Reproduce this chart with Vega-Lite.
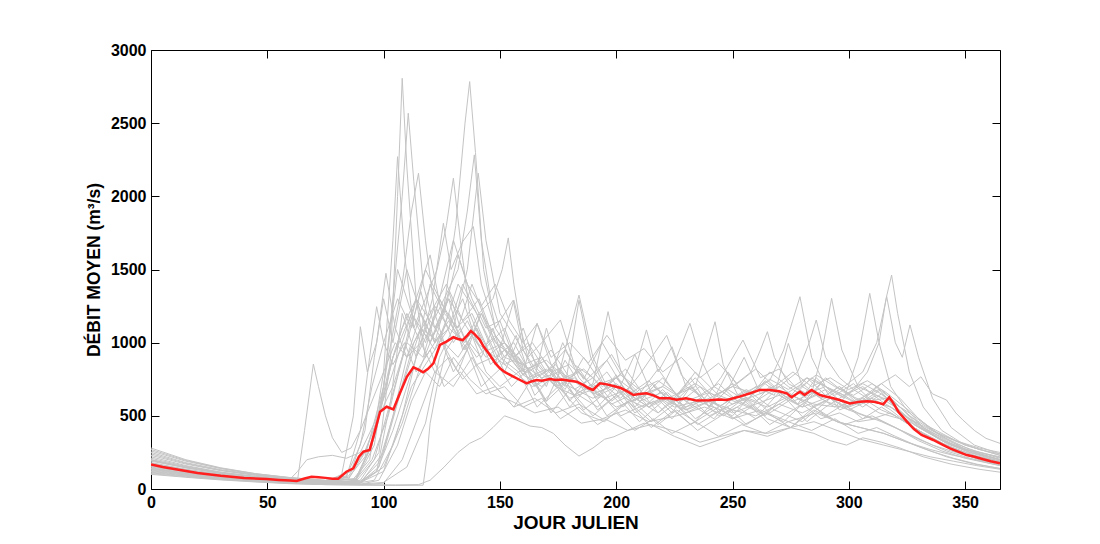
{
"$schema": "https://vega.github.io/schema/vega-lite/v6.json",
"width": 849, "height": 439,
"autosize": {"type": "none"},
"padding": {"left": 151, "top": 50, "right": 100, "bottom": 55},
"background": "white",
"config": {"view": {"stroke": null}, "font": "Liberation Sans"},
"datasets": {
"gray": [
{"s":1,"d":0,"v":180},{"s":1,"d":15,"v":135},{"s":1,"d":30,"v":100},{"s":1,"d":45,"v":75},{"s":1,"d":60,"v":55},{"s":1,"d":75,"v":40},{"s":1,"d":90,"v":60},{"s":1,"d":98,"v":250},{"s":1,"d":103,"v":900},{"s":1,"d":106,"v":2000},{"s":1,"d":108,"v":2807},{"s":1,"d":110,"v":2200},{"s":1,"d":114,"v":1300},{"s":1,"d":118,"v":900},{"s":1,"d":124,"v":1050},{"s":1,"d":130,"v":800},{"s":1,"d":136,"v":950},{"s":1,"d":142,"v":700},{"s":1,"d":150,"v":820},{"s":1,"d":157,"v":1050},{"s":1,"d":163,"v":760},{"s":1,"d":170,"v":600},{"s":1,"d":178,"v":880},{"s":1,"d":185,"v":700},{"s":1,"d":192,"v":540},{"s":1,"d":200,"v":640},{"s":1,"d":208,"v":920},{"s":1,"d":215,"v":660},{"s":1,"d":224,"v":520},{"s":1,"d":232,"v":700},{"s":1,"d":240,"v":560},{"s":1,"d":248,"v":800},{"s":1,"d":256,"v":620},{"s":1,"d":264,"v":500},{"s":1,"d":272,"v":640},{"s":1,"d":280,"v":560},{"s":1,"d":288,"v":720},{"s":1,"d":296,"v":540},{"s":1,"d":305,"v":600},{"s":1,"d":313,"v":520},{"s":1,"d":322,"v":480},{"s":1,"d":332,"v":380},{"s":1,"d":345,"v":260},{"s":1,"d":355,"v":210},{"s":1,"d":365,"v":175},
{"s":2,"d":0,"v":220},{"s":2,"d":15,"v":160},{"s":2,"d":30,"v":115},{"s":2,"d":45,"v":85},{"s":2,"d":60,"v":62},{"s":2,"d":75,"v":48},{"s":2,"d":88,"v":70},{"s":2,"d":95,"v":300},{"s":2,"d":100,"v":700},{"s":2,"d":104,"v":1300},{"s":2,"d":108,"v":2000},{"s":2,"d":110.6,"v":2568},{"s":2,"d":113,"v":2100},{"s":2,"d":117,"v":1400},{"s":2,"d":122,"v":1100},{"s":2,"d":128,"v":1300},{"s":2,"d":134,"v":950},{"s":2,"d":140,"v":1100},{"s":2,"d":148,"v":850},{"s":2,"d":156,"v":1290},{"s":2,"d":162,"v":900},{"s":2,"d":170,"v":700},{"s":2,"d":177,"v":1000},{"s":2,"d":184,"v":760},{"s":2,"d":192,"v":620},{"s":2,"d":200,"v":780},{"s":2,"d":208,"v":560},{"s":2,"d":216,"v":700},{"s":2,"d":224,"v":600},{"s":2,"d":232,"v":760},{"s":2,"d":240,"v":560},{"s":2,"d":248,"v":680},{"s":2,"d":255,"v":900},{"s":2,"d":262,"v":650},{"s":2,"d":270,"v":720},{"s":2,"d":278,"v":580},{"s":2,"d":286,"v":760},{"s":2,"d":294,"v":640},{"s":2,"d":302,"v":720},{"s":2,"d":310,"v":600},{"s":2,"d":318,"v":560},{"s":2,"d":326,"v":480},{"s":2,"d":338,"v":380},{"s":2,"d":350,"v":300},{"s":2,"d":365,"v":230},
{"s":3,"d":0,"v":150},{"s":3,"d":15,"v":115},{"s":3,"d":30,"v":88},{"s":3,"d":45,"v":68},{"s":3,"d":60,"v":50},{"s":3,"d":75,"v":38},{"s":3,"d":90,"v":40},{"s":3,"d":100,"v":150},{"s":3,"d":108,"v":450},{"s":3,"d":115,"v":800},{"s":3,"d":120,"v":1000},{"s":3,"d":126,"v":1250},{"s":3,"d":131,"v":1800},{"s":3,"d":135,"v":2500},{"s":3,"d":137,"v":2784},{"s":3,"d":139.5,"v":2300},{"s":3,"d":143,"v":1500},{"s":3,"d":148,"v":1100},{"s":3,"d":154,"v":950},{"s":3,"d":160,"v":800},{"s":3,"d":166,"v":1132},{"s":3,"d":172,"v":850},{"s":3,"d":178,"v":700},{"s":3,"d":184,"v":1290},{"s":3,"d":189,"v":900},{"s":3,"d":195,"v":700},{"s":3,"d":203,"v":560},{"s":3,"d":210,"v":680},{"s":3,"d":218,"v":520},{"s":3,"d":226,"v":620},{"s":3,"d":234,"v":480},{"s":3,"d":242,"v":560},{"s":3,"d":250,"v":500},{"s":3,"d":258,"v":640},{"s":3,"d":266,"v":520},{"s":3,"d":274,"v":600},{"s":3,"d":282,"v":460},{"s":3,"d":290,"v":560},{"s":3,"d":298,"v":640},{"s":3,"d":306,"v":560},{"s":3,"d":314,"v":650},{"s":3,"d":320,"v":560},{"s":3,"d":330,"v":420},{"s":3,"d":342,"v":320},{"s":3,"d":354,"v":250},{"s":3,"d":365,"v":200},
{"s":4,"d":0,"v":130},{"s":4,"d":15,"v":100},{"s":4,"d":30,"v":78},{"s":4,"d":45,"v":60},{"s":4,"d":60,"v":45},{"s":4,"d":75,"v":35},{"s":4,"d":90,"v":45},{"s":4,"d":97,"v":120},{"s":4,"d":103,"v":600},{"s":4,"d":108,"v":1200},{"s":4,"d":114,"v":900},{"s":4,"d":120,"v":1100},{"s":4,"d":126,"v":1300},{"s":4,"d":132,"v":1500},{"s":4,"d":136,"v":1900},{"s":4,"d":139,"v":2283},{"s":4,"d":142,"v":1700},{"s":4,"d":146,"v":1300},{"s":4,"d":152,"v":1000},{"s":4,"d":158,"v":900},{"s":4,"d":165,"v":760},{"s":4,"d":170,"v":1100},{"s":4,"d":175,"v":820},{"s":4,"d":182,"v":640},{"s":4,"d":190,"v":720},{"s":4,"d":196.5,"v":1212},{"s":4,"d":202,"v":800},{"s":4,"d":210,"v":600},{"s":4,"d":218,"v":520},{"s":4,"d":226,"v":640},{"s":4,"d":234,"v":560},{"s":4,"d":242,"v":480},{"s":4,"d":250,"v":620},{"s":4,"d":258,"v":560},{"s":4,"d":266,"v":700},{"s":4,"d":274,"v":620},{"s":4,"d":282,"v":760},{"s":4,"d":290,"v":640},{"s":4,"d":298,"v":560},{"s":4,"d":306,"v":620},{"s":4,"d":314,"v":540},{"s":4,"d":320,"v":500},{"s":4,"d":328,"v":420},{"s":4,"d":338,"v":320},{"s":4,"d":350,"v":240},{"s":4,"d":365,"v":185},
{"s":5,"d":0,"v":260},{"s":5,"d":15,"v":190},{"s":5,"d":30,"v":140},{"s":5,"d":45,"v":100},{"s":5,"d":60,"v":75},{"s":5,"d":75,"v":55},{"s":5,"d":85,"v":80},{"s":5,"d":92,"v":220},{"s":5,"d":100,"v":700},{"s":5,"d":106,"v":1500},{"s":5,"d":112,"v":1200},{"s":5,"d":118,"v":1000},{"s":5,"d":124,"v":1300},{"s":5,"d":130,"v":1100},{"s":5,"d":136,"v":1500},{"s":5,"d":140.7,"v":2158},{"s":5,"d":144,"v":1700},{"s":5,"d":150,"v":1200},{"s":5,"d":156,"v":1050},{"s":5,"d":162,"v":900},{"s":5,"d":168,"v":1000},{"s":5,"d":176,"v":1155},{"s":5,"d":182,"v":850},{"s":5,"d":190,"v":760},{"s":5,"d":198,"v":920},{"s":5,"d":206,"v":700},{"s":5,"d":213,"v":1087},{"s":5,"d":218,"v":800},{"s":5,"d":224,"v":972},{"s":5,"d":230,"v":700},{"s":5,"d":238,"v":620},{"s":5,"d":245,"v":760},{"s":5,"d":254.5,"v":1018},{"s":5,"d":262,"v":760},{"s":5,"d":270,"v":820},{"s":5,"d":278,"v":680},{"s":5,"d":286,"v":780},{"s":5,"d":294,"v":700},{"s":5,"d":302,"v":640},{"s":5,"d":310,"v":720},{"s":5,"d":318,"v":620},{"s":5,"d":326,"v":500},{"s":5,"d":336,"v":400},{"s":5,"d":346,"v":330},{"s":5,"d":356,"v":280},{"s":5,"d":365,"v":250},
{"s":6,"d":0,"v":170},{"s":6,"d":15,"v":130},{"s":6,"d":30,"v":95},{"s":6,"d":45,"v":72},{"s":6,"d":60,"v":52},{"s":6,"d":75,"v":40},{"s":6,"d":88,"v":55},{"s":6,"d":96,"v":300},{"s":6,"d":102,"v":900},{"s":6,"d":108,"v":1400},{"s":6,"d":112,"v":1900},{"s":6,"d":115,"v":2158},{"s":6,"d":118,"v":1700},{"s":6,"d":122,"v":1200},{"s":6,"d":127,"v":950},{"s":6,"d":133,"v":1100},{"s":6,"d":140,"v":850},{"s":6,"d":147,"v":900},{"s":6,"d":155,"v":700},{"s":6,"d":162,"v":820},{"s":6,"d":170,"v":600},{"s":6,"d":178,"v":720},{"s":6,"d":186,"v":540},{"s":6,"d":194,"v":640},{"s":6,"d":202,"v":500},{"s":6,"d":210,"v":560},{"s":6,"d":218,"v":440},{"s":6,"d":226,"v":540},{"s":6,"d":234,"v":460},{"s":6,"d":242,"v":600},{"s":6,"d":250,"v":480},{"s":6,"d":258,"v":560},{"s":6,"d":266,"v":440},{"s":6,"d":274,"v":520},{"s":6,"d":282,"v":600},{"s":6,"d":290,"v":500},{"s":6,"d":298,"v":580},{"s":6,"d":306,"v":480},{"s":6,"d":314,"v":560},{"s":6,"d":320,"v":500},{"s":6,"d":330,"v":400},{"s":6,"d":342,"v":300},{"s":6,"d":354,"v":230},{"s":6,"d":365,"v":190},
{"s":7,"d":0,"v":140},{"s":7,"d":15,"v":108},{"s":7,"d":30,"v":82},{"s":7,"d":45,"v":63},{"s":7,"d":60,"v":47},{"s":7,"d":75,"v":36},{"s":7,"d":86,"v":50},{"s":7,"d":94,"v":200},{"s":7,"d":100,"v":800},{"s":7,"d":104,"v":1700},{"s":7,"d":106,"v":2271},{"s":7,"d":109,"v":1600},{"s":7,"d":113,"v":1100},{"s":7,"d":118,"v":1300},{"s":7,"d":123,"v":1500},{"s":7,"d":127,"v":1800},{"s":7,"d":130,"v":2124},{"s":7,"d":133,"v":1700},{"s":7,"d":137,"v":1200},{"s":7,"d":142,"v":1000},{"s":7,"d":148,"v":850},{"s":7,"d":155,"v":950},{"s":7,"d":162,"v":760},{"s":7,"d":170,"v":820},{"s":7,"d":178,"v":680},{"s":7,"d":186,"v":900},{"s":7,"d":194,"v":720},{"s":7,"d":202,"v":620},{"s":7,"d":210,"v":780},{"s":7,"d":221.7,"v":1050},{"s":7,"d":228,"v":780},{"s":7,"d":236,"v":640},{"s":7,"d":244,"v":720},{"s":7,"d":252,"v":600},{"s":7,"d":260,"v":700},{"s":7,"d":268,"v":640},{"s":7,"d":274,"v":995},{"s":7,"d":280,"v":700},{"s":7,"d":288,"v":620},{"s":7,"d":296,"v":700},{"s":7,"d":304,"v":580},{"s":7,"d":312,"v":640},{"s":7,"d":318,"v":600},{"s":7,"d":328,"v":440},{"s":7,"d":340,"v":330},{"s":7,"d":352,"v":250},{"s":7,"d":365,"v":200},
{"s":8,"d":0,"v":200},{"s":8,"d":15,"v":150},{"s":8,"d":30,"v":110},{"s":8,"d":45,"v":82},{"s":8,"d":60,"v":60},{"s":8,"d":75,"v":45},{"s":8,"d":85,"v":70},{"s":8,"d":92,"v":250},{"s":8,"d":98,"v":500},{"s":8,"d":104,"v":900},{"s":8,"d":110,"v":1200},{"s":8,"d":116,"v":1000},{"s":8,"d":121,"v":1300},{"s":8,"d":125.7,"v":1816},{"s":8,"d":129,"v":1500},{"s":8,"d":134,"v":1690},{"s":8,"d":138.6,"v":1793},{"s":8,"d":142,"v":1400},{"s":8,"d":148,"v":1100},{"s":8,"d":155.7,"v":1290},{"s":8,"d":160,"v":950},{"s":8,"d":166,"v":760},{"s":8,"d":174,"v":850},{"s":8,"d":182,"v":680},{"s":8,"d":190,"v":760},{"s":8,"d":198,"v":600},{"s":8,"d":206,"v":700},{"s":8,"d":214,"v":560},{"s":8,"d":222,"v":660},{"s":8,"d":230,"v":540},{"s":8,"d":238,"v":620},{"s":8,"d":246,"v":500},{"s":8,"d":254,"v":580},{"s":8,"d":262,"v":520},{"s":8,"d":270,"v":660},{"s":8,"d":278,"v":580},{"s":8,"d":286,"v":640},{"s":8,"d":294,"v":560},{"s":8,"d":302,"v":680},{"s":8,"d":310,"v":600},{"s":8,"d":318,"v":560},{"s":8,"d":326,"v":460},{"s":8,"d":338,"v":350},{"s":8,"d":350,"v":270},{"s":8,"d":365,"v":220},
{"s":9,"d":0,"v":110},{"s":9,"d":15,"v":88},{"s":9,"d":30,"v":68},{"s":9,"d":45,"v":52},{"s":9,"d":60,"v":40},{"s":9,"d":75,"v":32},{"s":9,"d":88,"v":38},{"s":9,"d":96,"v":60},{"s":9,"d":104,"v":300},{"s":9,"d":112,"v":700},{"s":9,"d":120,"v":900},{"s":9,"d":128,"v":1100},{"s":9,"d":135,"v":1000},{"s":9,"d":141,"v":1200},{"s":9,"d":147,"v":1300},{"s":9,"d":151,"v":1500},{"s":9,"d":153.6,"v":1716},{"s":9,"d":156,"v":1400},{"s":9,"d":160,"v":1000},{"s":9,"d":166,"v":850},{"s":9,"d":172,"v":950},{"s":9,"d":180,"v":760},{"s":9,"d":188,"v":680},{"s":9,"d":196,"v":800},{"s":9,"d":204,"v":620},{"s":9,"d":212,"v":560},{"s":9,"d":220,"v":680},{"s":9,"d":228,"v":540},{"s":9,"d":236,"v":620},{"s":9,"d":244,"v":500},{"s":9,"d":252,"v":560},{"s":9,"d":260,"v":480},{"s":9,"d":268,"v":560},{"s":9,"d":276,"v":640},{"s":9,"d":284,"v":560},{"s":9,"d":292,"v":620},{"s":9,"d":300,"v":540},{"s":9,"d":308,"v":600},{"s":9,"d":316,"v":620},{"s":9,"d":326,"v":520},{"s":9,"d":338,"v":380},{"s":9,"d":350,"v":270},{"s":9,"d":365,"v":200},
{"s":10,"d":0,"v":120},{"s":10,"d":15,"v":95},{"s":10,"d":30,"v":74},{"s":10,"d":45,"v":57},{"s":10,"d":60,"v":44},{"s":10,"d":63,"v":60},{"s":10,"d":66,"v":400},{"s":10,"d":69.8,"v":854},{"s":10,"d":72,"v":700},{"s":10,"d":75,"v":500},{"s":10,"d":78,"v":350},{"s":10,"d":82,"v":250},{"s":10,"d":86,"v":280},{"s":10,"d":90,"v":400},{"s":10,"d":95,"v":600},{"s":10,"d":100,"v":800},{"s":10,"d":105,"v":1000},{"s":10,"d":110,"v":900},{"s":10,"d":116,"v":1100},{"s":10,"d":122,"v":950},{"s":10,"d":128,"v":1200},{"s":10,"d":134,"v":1000},{"s":10,"d":140,"v":1100},{"s":10,"d":146,"v":850},{"s":10,"d":152,"v":950},{"s":10,"d":160,"v":780},{"s":10,"d":168,"v":700},{"s":10,"d":176,"v":820},{"s":10,"d":184,"v":640},{"s":10,"d":192,"v":560},{"s":10,"d":200,"v":700},{"s":10,"d":208,"v":520},{"s":10,"d":216,"v":600},{"s":10,"d":224,"v":480},{"s":10,"d":232,"v":620},{"s":10,"d":240,"v":500},{"s":10,"d":248,"v":560},{"s":10,"d":256,"v":440},{"s":10,"d":264,"v":520},{"s":10,"d":272,"v":460},{"s":10,"d":280,"v":580},{"s":10,"d":288,"v":480},{"s":10,"d":296,"v":520},{"s":10,"d":304,"v":460},{"s":10,"d":312,"v":480},{"s":10,"d":320,"v":420},{"s":10,"d":330,"v":330},{"s":10,"d":340,"v":260},{"s":10,"d":350,"v":210},{"s":10,"d":365,"v":160},
{"s":11,"d":0,"v":100},{"s":11,"d":15,"v":80},{"s":11,"d":30,"v":62},{"s":11,"d":45,"v":48},{"s":11,"d":60,"v":36},{"s":11,"d":75,"v":30},{"s":11,"d":90,"v":26},{"s":11,"d":105,"v":24},{"s":11,"d":117,"v":26},{"s":11,"d":118.5,"v":200},{"s":11,"d":120,"v":449},{"s":11,"d":123,"v":700},{"s":11,"d":127,"v":950},{"s":11,"d":132,"v":800},{"s":11,"d":137,"v":1000},{"s":11,"d":142,"v":900},{"s":11,"d":147,"v":1100},{"s":11,"d":152,"v":850},{"s":11,"d":158,"v":900},{"s":11,"d":165,"v":640},{"s":11,"d":172,"v":760},{"s":11,"d":180,"v":560},{"s":11,"d":188,"v":700},{"s":11,"d":196,"v":500},{"s":11,"d":205,"v":600},{"s":11,"d":215,"v":460},{"s":11,"d":225,"v":580},{"s":11,"d":235,"v":440},{"s":11,"d":245,"v":540},{"s":11,"d":255,"v":440},{"s":11,"d":265,"v":520},{"s":11,"d":275,"v":420},{"s":11,"d":285,"v":540},{"s":11,"d":295,"v":460},{"s":11,"d":305,"v":420},{"s":11,"d":315,"v":380},{"s":11,"d":325,"v":320},{"s":11,"d":335,"v":260},{"s":11,"d":345,"v":210},{"s":11,"d":355,"v":170},{"s":11,"d":365,"v":140},
{"s":12,"d":0,"v":115},{"s":12,"d":15,"v":90},{"s":12,"d":30,"v":70},{"s":12,"d":45,"v":54},{"s":12,"d":60,"v":42},{"s":12,"d":75,"v":34},{"s":12,"d":90,"v":30},{"s":12,"d":105,"v":28},{"s":12,"d":115,"v":30},{"s":12,"d":120,"v":60},{"s":12,"d":126,"v":150},{"s":12,"d":132,"v":250},{"s":12,"d":137,"v":312},{"s":12,"d":142,"v":350},{"s":12,"d":147,"v":420},{"s":12,"d":152,"v":500},{"s":12,"d":157,"v":472},{"s":12,"d":163,"v":430},{"s":12,"d":168,"v":420},{"s":12,"d":173,"v":380},{"s":12,"d":178,"v":300},{"s":12,"d":184,"v":225},{"s":12,"d":190,"v":280},{"s":12,"d":195,"v":340},{"s":12,"d":199,"v":357},{"s":12,"d":205,"v":400},{"s":12,"d":212,"v":450},{"s":12,"d":220,"v":420},{"s":12,"d":228,"v":380},{"s":12,"d":236,"v":320},{"s":12,"d":245,"v":360},{"s":12,"d":255,"v":400},{"s":12,"d":265,"v":380},{"s":12,"d":275,"v":420},{"s":12,"d":285,"v":460},{"s":12,"d":295,"v":400},{"s":12,"d":305,"v":340},{"s":12,"d":315,"v":300},{"s":12,"d":325,"v":260},{"s":12,"d":335,"v":220},{"s":12,"d":345,"v":190},{"s":12,"d":355,"v":160},{"s":12,"d":365,"v":135},
{"s":13,"d":0,"v":240},{"s":13,"d":15,"v":175},{"s":13,"d":30,"v":128},{"s":13,"d":45,"v":95},{"s":13,"d":60,"v":70},{"s":13,"d":63,"v":120},{"s":13,"d":67,"v":200},{"s":13,"d":72,"v":220},{"s":13,"d":78,"v":230},{"s":13,"d":84,"v":210},{"s":13,"d":90,"v":250},{"s":13,"d":96,"v":450},{"s":13,"d":102,"v":700},{"s":13,"d":108,"v":1000},{"s":13,"d":114,"v":1300},{"s":13,"d":120,"v":1150},{"s":13,"d":126,"v":1000},{"s":13,"d":132,"v":900},{"s":13,"d":138,"v":1050},{"s":13,"d":144,"v":800},{"s":13,"d":150,"v":700},{"s":13,"d":158,"v":800},{"s":13,"d":166,"v":560},{"s":13,"d":175,"v":700},{"s":13,"d":185,"v":520},{"s":13,"d":195,"v":460},{"s":13,"d":205,"v":600},{"s":13,"d":215,"v":420},{"s":13,"d":225,"v":540},{"s":13,"d":235,"v":400},{"s":13,"d":245,"v":500},{"s":13,"d":255,"v":620},{"s":13,"d":265,"v":480},{"s":13,"d":275,"v":420},{"s":13,"d":285,"v":560},{"s":13,"d":295,"v":460},{"s":13,"d":305,"v":420},{"s":13,"d":315,"v":380},{"s":13,"d":325,"v":320},{"s":13,"d":335,"v":270},{"s":13,"d":345,"v":230},{"s":13,"d":355,"v":200},{"s":13,"d":365,"v":175},
{"s":14,"d":0,"v":190},{"s":14,"d":15,"v":145},{"s":14,"d":30,"v":108},{"s":14,"d":45,"v":80},{"s":14,"d":60,"v":60},{"s":14,"d":75,"v":48},{"s":14,"d":82,"v":100},{"s":14,"d":87,"v":500},{"s":14,"d":90,"v":1109},{"s":14,"d":93,"v":800},{"s":14,"d":97,"v":1000},{"s":14,"d":101,"v":1474},{"s":14,"d":105,"v":1100},{"s":14,"d":110,"v":900},{"s":14,"d":116,"v":1000},{"s":14,"d":122,"v":800},{"s":14,"d":128,"v":900},{"s":14,"d":134,"v":750},{"s":14,"d":140,"v":850},{"s":14,"d":148,"v":700},{"s":14,"d":156,"v":560},{"s":14,"d":164,"v":760},{"s":14,"d":172,"v":520},{"s":14,"d":180,"v":680},{"s":14,"d":190,"v":500},{"s":14,"d":200,"v":640},{"s":14,"d":210,"v":460},{"s":14,"d":220,"v":600},{"s":14,"d":232,"v":440},{"s":14,"d":244,"v":560},{"s":14,"d":256,"v":680},{"s":14,"d":268,"v":540},{"s":14,"d":280,"v":460},{"s":14,"d":292,"v":620},{"s":14,"d":304,"v":520},{"s":14,"d":314,"v":460},{"s":14,"d":324,"v":390},{"s":14,"d":336,"v":300},{"s":14,"d":348,"v":240},{"s":14,"d":365,"v":190},
{"s":15,"d":0,"v":160},{"s":15,"d":15,"v":120},{"s":15,"d":30,"v":90},{"s":15,"d":45,"v":68},{"s":15,"d":60,"v":50},{"s":15,"d":75,"v":40},{"s":15,"d":84,"v":80},{"s":15,"d":90,"v":400},{"s":15,"d":94,"v":900},{"s":15,"d":97,"v":1246},{"s":15,"d":100,"v":1000},{"s":15,"d":104,"v":850},{"s":15,"d":109,"v":1000},{"s":15,"d":114,"v":800},{"s":15,"d":120,"v":950},{"s":15,"d":126,"v":700},{"s":15,"d":133,"v":800},{"s":15,"d":140,"v":650},{"s":15,"d":148,"v":700},{"s":15,"d":156,"v":560},{"s":15,"d":165,"v":620},{"s":15,"d":174,"v":520},{"s":15,"d":184,"v":580},{"s":15,"d":194,"v":480},{"s":15,"d":204,"v":540},{"s":15,"d":214,"v":460},{"s":15,"d":226,"v":500},{"s":15,"d":238,"v":560},{"s":15,"d":250,"v":480},{"s":15,"d":262,"v":540},{"s":15,"d":274,"v":460},{"s":15,"d":286,"v":520},{"s":15,"d":298,"v":440},{"s":15,"d":310,"v":500},{"s":15,"d":320,"v":420},{"s":15,"d":330,"v":340},{"s":15,"d":342,"v":260},{"s":15,"d":354,"v":200},{"s":15,"d":365,"v":160},
{"s":16,"d":0,"v":210},{"s":16,"d":15,"v":155},{"s":16,"d":30,"v":115},{"s":16,"d":45,"v":86},{"s":16,"d":60,"v":64},{"s":16,"d":75,"v":50},{"s":16,"d":90,"v":45},{"s":16,"d":98,"v":150},{"s":16,"d":104,"v":500},{"s":16,"d":110,"v":900},{"s":16,"d":116,"v":1200},{"s":16,"d":122,"v":1000},{"s":16,"d":128,"v":1100},{"s":16,"d":134,"v":1300},{"s":16,"d":140,"v":1000},{"s":16,"d":148,"v":900},{"s":16,"d":156,"v":800},{"s":16,"d":164,"v":700},{"s":16,"d":172,"v":760},{"s":16,"d":180,"v":620},{"s":16,"d":190,"v":680},{"s":16,"d":200,"v":560},{"s":16,"d":210,"v":620},{"s":16,"d":220,"v":700},{"s":16,"d":226,"v":900},{"s":16,"d":231.7,"v":1132},{"s":16,"d":236,"v":900},{"s":16,"d":242,"v":700},{"s":16,"d":250,"v":620},{"s":16,"d":258,"v":680},{"s":16,"d":266,"v":740},{"s":16,"d":272,"v":950},{"s":16,"d":279,"v":1314},{"s":16,"d":284,"v":900},{"s":16,"d":290,"v":700},{"s":16,"d":298,"v":640},{"s":16,"d":306,"v":700},{"s":16,"d":314,"v":600},{"s":16,"d":322,"v":520},{"s":16,"d":332,"v":420},{"s":16,"d":344,"v":320},{"s":16,"d":356,"v":250},{"s":16,"d":365,"v":210},
{"s":17,"d":0,"v":145},{"s":17,"d":15,"v":110},{"s":17,"d":30,"v":84},{"s":17,"d":45,"v":64},{"s":17,"d":60,"v":48},{"s":17,"d":75,"v":38},{"s":17,"d":88,"v":60},{"s":17,"d":95,"v":300},{"s":17,"d":102,"v":800},{"s":17,"d":108,"v":1100},{"s":17,"d":114,"v":1300},{"s":17,"d":120,"v":1000},{"s":17,"d":126,"v":1200},{"s":17,"d":132,"v":1100},{"s":17,"d":138,"v":1400},{"s":17,"d":145,"v":1100},{"s":17,"d":152,"v":900},{"s":17,"d":160,"v":850},{"s":17,"d":168,"v":760},{"s":17,"d":176,"v":800},{"s":17,"d":185,"v":700},{"s":17,"d":195,"v":620},{"s":17,"d":205,"v":680},{"s":17,"d":215,"v":580},{"s":17,"d":225,"v":640},{"s":17,"d":234,"v":700},{"s":17,"d":238,"v":900},{"s":17,"d":242.5,"v":1143},{"s":17,"d":246,"v":850},{"s":17,"d":252,"v":650},{"s":17,"d":260,"v":600},{"s":17,"d":268,"v":680},{"s":17,"d":276,"v":600},{"s":17,"d":284,"v":650},{"s":17,"d":288,"v":900},{"s":17,"d":292.6,"v":1303},{"s":17,"d":297,"v":950},{"s":17,"d":304,"v":700},{"s":17,"d":312,"v":640},{"s":17,"d":320,"v":560},{"s":17,"d":330,"v":430},{"s":17,"d":342,"v":320},{"s":17,"d":354,"v":250},{"s":17,"d":365,"v":200},
{"s":18,"d":0,"v":175},{"s":18,"d":15,"v":130},{"s":18,"d":30,"v":98},{"s":18,"d":45,"v":74},{"s":18,"d":60,"v":55},{"s":18,"d":75,"v":44},{"s":18,"d":88,"v":50},{"s":18,"d":96,"v":200},{"s":18,"d":103,"v":600},{"s":18,"d":110,"v":1000},{"s":18,"d":117,"v":900},{"s":18,"d":124,"v":1300},{"s":18,"d":131,"v":1100},{"s":18,"d":138,"v":1200},{"s":18,"d":145,"v":950},{"s":18,"d":152,"v":1000},{"s":18,"d":160,"v":850},{"s":18,"d":168,"v":900},{"s":18,"d":176,"v":720},{"s":18,"d":184,"v":800},{"s":18,"d":192,"v":660},{"s":18,"d":200,"v":720},{"s":18,"d":210,"v":600},{"s":18,"d":220,"v":660},{"s":18,"d":230,"v":560},{"s":18,"d":240,"v":620},{"s":18,"d":250,"v":700},{"s":18,"d":258,"v":800},{"s":18,"d":262,"v":950},{"s":18,"d":265,"v":1075},{"s":18,"d":268,"v":900},{"s":18,"d":274,"v":720},{"s":18,"d":282,"v":650},{"s":18,"d":290,"v":700},{"s":18,"d":298,"v":620},{"s":18,"d":304,"v":900},{"s":18,"d":309,"v":1337},{"s":18,"d":313,"v":1000},{"s":18,"d":318,"v":700},{"s":18,"d":324,"v":560},{"s":18,"d":332,"v":420},{"s":18,"d":342,"v":310},{"s":18,"d":354,"v":240},{"s":18,"d":365,"v":190},
{"s":19,"d":0,"v":230},{"s":19,"d":15,"v":170},{"s":19,"d":30,"v":125},{"s":19,"d":45,"v":93},{"s":19,"d":60,"v":68},{"s":19,"d":75,"v":52},{"s":19,"d":90,"v":50},{"s":19,"d":98,"v":180},{"s":19,"d":106,"v":600},{"s":19,"d":113,"v":1000},{"s":19,"d":120,"v":1200},{"s":19,"d":127,"v":1400},{"s":19,"d":134,"v":1150},{"s":19,"d":141,"v":1300},{"s":19,"d":148,"v":1000},{"s":19,"d":156,"v":900},{"s":19,"d":164,"v":1000},{"s":19,"d":172,"v":800},{"s":19,"d":180,"v":850},{"s":19,"d":190,"v":700},{"s":19,"d":200,"v":760},{"s":19,"d":210,"v":640},{"s":19,"d":220,"v":700},{"s":19,"d":230,"v":600},{"s":19,"d":240,"v":660},{"s":19,"d":250,"v":580},{"s":19,"d":260,"v":640},{"s":19,"d":270,"v":700},{"s":19,"d":278,"v":800},{"s":19,"d":283,"v":1000},{"s":19,"d":286,"v":1155},{"s":19,"d":290,"v":900},{"s":19,"d":296,"v":760},{"s":19,"d":302,"v":680},{"s":19,"d":308,"v":800},{"s":19,"d":313,"v":1000},{"s":19,"d":316,"v":1300},{"s":19,"d":318.4,"v":1462},{"s":19,"d":321,"v":1200},{"s":19,"d":326,"v":800},{"s":19,"d":332,"v":560},{"s":19,"d":340,"v":400},{"s":19,"d":350,"v":300},{"s":19,"d":365,"v":230},
{"s":20,"d":0,"v":125},{"s":20,"d":15,"v":96},{"s":20,"d":30,"v":73},{"s":20,"d":45,"v":56},{"s":20,"d":60,"v":42},{"s":20,"d":75,"v":34},{"s":20,"d":90,"v":40},{"s":20,"d":100,"v":250},{"s":20,"d":108,"v":700},{"s":20,"d":116,"v":1100},{"s":20,"d":124,"v":1000},{"s":20,"d":132,"v":1400},{"s":20,"d":140,"v":1200},{"s":20,"d":148,"v":900},{"s":20,"d":156,"v":1000},{"s":20,"d":164,"v":760},{"s":20,"d":172,"v":820},{"s":20,"d":180,"v":700},{"s":20,"d":190,"v":620},{"s":20,"d":200,"v":700},{"s":20,"d":210,"v":560},{"s":20,"d":220,"v":620},{"s":20,"d":230,"v":540},{"s":20,"d":240,"v":600},{"s":20,"d":250,"v":520},{"s":20,"d":260,"v":580},{"s":20,"d":270,"v":640},{"s":20,"d":280,"v":560},{"s":20,"d":290,"v":620},{"s":20,"d":298,"v":700},{"s":20,"d":306,"v":800},{"s":20,"d":312,"v":1000},{"s":20,"d":316.3,"v":1314},{"s":20,"d":320,"v":1000},{"s":20,"d":323,"v":900},{"s":20,"d":326.3,"v":1121},{"s":20,"d":330,"v":900},{"s":20,"d":336,"v":620},{"s":20,"d":344,"v":420},{"s":20,"d":354,"v":300},{"s":20,"d":365,"v":240},
{"s":21,"d":0,"v":280},{"s":21,"d":15,"v":200},{"s":21,"d":30,"v":145},{"s":21,"d":45,"v":105},{"s":21,"d":60,"v":78},{"s":21,"d":75,"v":60},{"s":21,"d":88,"v":70},{"s":21,"d":96,"v":350},{"s":21,"d":104,"v":900},{"s":21,"d":112,"v":1200},{"s":21,"d":120,"v":1000},{"s":21,"d":128,"v":1300},{"s":21,"d":136,"v":1100},{"s":21,"d":144,"v":900},{"s":21,"d":152,"v":1000},{"s":21,"d":160,"v":780},{"s":21,"d":168,"v":900},{"s":21,"d":176,"v":700},{"s":21,"d":184,"v":820},{"s":21,"d":192,"v":640},{"s":21,"d":200,"v":760},{"s":21,"d":208,"v":600},{"s":21,"d":216,"v":720},{"s":21,"d":224,"v":580},{"s":21,"d":232,"v":700},{"s":21,"d":240,"v":560},{"s":21,"d":248,"v":680},{"s":21,"d":256,"v":600},{"s":21,"d":264,"v":740},{"s":21,"d":272,"v":640},{"s":21,"d":280,"v":720},{"s":21,"d":288,"v":620},{"s":21,"d":296,"v":700},{"s":21,"d":304,"v":600},{"s":21,"d":312,"v":700},{"s":21,"d":320,"v":780},{"s":21,"d":326,"v":700},{"s":21,"d":331,"v":767},{"s":21,"d":336,"v":650},{"s":21,"d":342,"v":608},{"s":21,"d":346,"v":520},{"s":21,"d":349,"v":472},{"s":21,"d":354,"v":400},{"s":21,"d":359,"v":346},{"s":21,"d":365,"v":312},
{"s":22,"d":0,"v":105},{"s":22,"d":15,"v":84},{"s":22,"d":30,"v":65},{"s":22,"d":45,"v":50},{"s":22,"d":60,"v":38},{"s":22,"d":75,"v":30},{"s":22,"d":90,"v":28},{"s":22,"d":100,"v":40},{"s":22,"d":108,"v":200},{"s":22,"d":115,"v":500},{"s":22,"d":122,"v":800},{"s":22,"d":130,"v":700},{"s":22,"d":138,"v":900},{"s":22,"d":146,"v":650},{"s":22,"d":155,"v":600},{"s":22,"d":165,"v":520},{"s":22,"d":175,"v":560},{"s":22,"d":185,"v":450},{"s":22,"d":195,"v":480},{"s":22,"d":205,"v":400},{"s":22,"d":215,"v":440},{"s":22,"d":225,"v":360},{"s":22,"d":236,"v":289},{"s":22,"d":245,"v":340},{"s":22,"d":255,"v":400},{"s":22,"d":265,"v":360},{"s":22,"d":275,"v":420},{"s":22,"d":285,"v":380},{"s":22,"d":292,"v":330},{"s":22,"d":299,"v":300},{"s":22,"d":306,"v":350},{"s":22,"d":314,"v":320},{"s":22,"d":322,"v":280},{"s":22,"d":332,"v":220},{"s":22,"d":344,"v":170},{"s":22,"d":356,"v":135},{"s":22,"d":365,"v":115},
{"s":23,"d":0,"v":195},{"s":23,"d":15,"v":145},{"s":23,"d":30,"v":106},{"s":23,"d":45,"v":80},{"s":23,"d":60,"v":60},{"s":23,"d":75,"v":46},{"s":23,"d":90,"v":55},{"s":23,"d":97,"v":120},{"s":23,"d":104,"v":400},{"s":23,"d":110,"v":700},{"s":23,"d":116,"v":1000},{"s":23,"d":122,"v":1250},{"s":23,"d":128,"v":1100},{"s":23,"d":134,"v":1400},{"s":23,"d":140,"v":1200},{"s":23,"d":146,"v":1000},{"s":23,"d":152,"v":1100},{"s":23,"d":158,"v":850},{"s":23,"d":165,"v":700},{"s":23,"d":172,"v":820},{"s":23,"d":180,"v":600},{"s":23,"d":188,"v":760},{"s":23,"d":196,"v":880},{"s":23,"d":205,"v":640},{"s":23,"d":214,"v":740},{"s":23,"d":224,"v":580},{"s":23,"d":234,"v":800},{"s":23,"d":244,"v":640},{"s":23,"d":254,"v":580},{"s":23,"d":264,"v":720},{"s":23,"d":274,"v":600},{"s":23,"d":284,"v":760},{"s":23,"d":294,"v":660},{"s":23,"d":304,"v":580},{"s":23,"d":314,"v":720},{"s":23,"d":322,"v":620},{"s":23,"d":330,"v":480},{"s":23,"d":340,"v":360},{"s":23,"d":352,"v":270},{"s":23,"d":365,"v":215},
{"s":24,"d":0,"v":155},{"s":24,"d":15,"v":118},{"s":24,"d":30,"v":88},{"s":24,"d":45,"v":66},{"s":24,"d":60,"v":50},{"s":24,"d":75,"v":40},{"s":24,"d":85,"v":90},{"s":24,"d":92,"v":260},{"s":24,"d":98,"v":500},{"s":24,"d":104,"v":700},{"s":24,"d":110,"v":1000},{"s":24,"d":116,"v":1350},{"s":24,"d":122,"v":1000},{"s":24,"d":128,"v":1150},{"s":24,"d":135,"v":950},{"s":24,"d":142,"v":1200},{"s":24,"d":150,"v":900},{"s":24,"d":158,"v":800},{"s":24,"d":166,"v":850},{"s":24,"d":174,"v":700},{"s":24,"d":182,"v":760},{"s":24,"d":190,"v":650},{"s":24,"d":198,"v":700},{"s":24,"d":206,"v":600},{"s":24,"d":215,"v":660},{"s":24,"d":225,"v":560},{"s":24,"d":235,"v":600},{"s":24,"d":245,"v":540},{"s":24,"d":255,"v":620},{"s":24,"d":265,"v":560},{"s":24,"d":275,"v":640},{"s":24,"d":285,"v":580},{"s":24,"d":295,"v":560},{"s":24,"d":305,"v":620},{"s":24,"d":313,"v":680},{"s":24,"d":320,"v":560},{"s":24,"d":328,"v":420},{"s":24,"d":338,"v":320},{"s":24,"d":350,"v":240},{"s":24,"d":365,"v":180},
{"s":25,"d":0,"v":135},{"s":25,"d":15,"v":103},{"s":25,"d":30,"v":78},{"s":25,"d":45,"v":60},{"s":25,"d":60,"v":45},{"s":25,"d":75,"v":36},{"s":25,"d":90,"v":34},{"s":25,"d":100,"v":45},{"s":25,"d":110,"v":150},{"s":25,"d":118,"v":450},{"s":25,"d":124,"v":900},{"s":25,"d":130,"v":1100},{"s":25,"d":136,"v":950},{"s":25,"d":142,"v":1200},{"s":25,"d":148,"v":1050},{"s":25,"d":154,"v":900},{"s":25,"d":160,"v":780},{"s":25,"d":167,"v":850},{"s":25,"d":174,"v":700},{"s":25,"d":182,"v":640},{"s":25,"d":190,"v":720},{"s":25,"d":198,"v":580},{"s":25,"d":206,"v":640},{"s":25,"d":214,"v":560},{"s":25,"d":222,"v":620},{"s":25,"d":230,"v":520},{"s":25,"d":240,"v":600},{"s":25,"d":250,"v":540},{"s":25,"d":260,"v":500},{"s":25,"d":270,"v":580},{"s":25,"d":280,"v":520},{"s":25,"d":290,"v":600},{"s":25,"d":300,"v":540},{"s":25,"d":310,"v":480},{"s":25,"d":318,"v":520},{"s":25,"d":326,"v":440},{"s":25,"d":336,"v":340},{"s":25,"d":346,"v":260},{"s":25,"d":356,"v":200},{"s":25,"d":365,"v":165},
{"s":26,"d":0,"v":250},{"s":26,"d":15,"v":180},{"s":26,"d":30,"v":132},{"s":26,"d":45,"v":98},{"s":26,"d":60,"v":72},{"s":26,"d":75,"v":56},{"s":26,"d":88,"v":65},{"s":26,"d":95,"v":200},{"s":26,"d":102,"v":500},{"s":26,"d":108,"v":900},{"s":26,"d":114,"v":1300},{"s":26,"d":120,"v":1600},{"s":26,"d":125,"v":1200},{"s":26,"d":130,"v":1000},{"s":26,"d":136,"v":1150},{"s":26,"d":142,"v":950},{"s":26,"d":148,"v":1050},{"s":26,"d":155,"v":900},{"s":26,"d":162,"v":820},{"s":26,"d":170,"v":880},{"s":26,"d":178,"v":760},{"s":26,"d":186,"v":820},{"s":26,"d":194,"v":700},{"s":26,"d":202,"v":780},{"s":26,"d":210,"v":680},{"s":26,"d":218,"v":740},{"s":26,"d":226,"v":650},{"s":26,"d":234,"v":720},{"s":26,"d":242,"v":640},{"s":26,"d":250,"v":700},{"s":26,"d":258,"v":660},{"s":26,"d":266,"v":750},{"s":26,"d":274,"v":680},{"s":26,"d":282,"v":760},{"s":26,"d":290,"v":700},{"s":26,"d":298,"v":640},{"s":26,"d":306,"v":720},{"s":26,"d":314,"v":650},{"s":26,"d":322,"v":560},{"s":26,"d":330,"v":430},{"s":26,"d":340,"v":330},{"s":26,"d":352,"v":250},{"s":26,"d":365,"v":200},
{"s":27,"d":0,"v":200},{"s":27,"d":15,"v":150},{"s":27,"d":30,"v":110},{"s":27,"d":45,"v":82},{"s":27,"d":60,"v":60},{"s":27,"d":75,"v":46},{"s":27,"d":86,"v":120},{"s":27,"d":92,"v":400},{"s":27,"d":96,"v":900},{"s":27,"d":100,"v":1300},{"s":27,"d":104,"v":1000},{"s":27,"d":110,"v":1500},{"s":27,"d":116,"v":1200},{"s":27,"d":122,"v":1000},{"s":27,"d":128,"v":1350},{"s":27,"d":134,"v":1050},{"s":27,"d":140,"v":900},{"s":27,"d":146,"v":1000},{"s":27,"d":152,"v":800},{"s":27,"d":160,"v":1100},{"s":27,"d":166,"v":820},{"s":27,"d":174,"v":700},{"s":27,"d":184,"v":1325},{"s":27,"d":190,"v":900},{"s":27,"d":196,"v":700},{"s":27,"d":204,"v":820},{"s":27,"d":212,"v":640},{"s":27,"d":220,"v":760},{"s":27,"d":228,"v":600},{"s":27,"d":236,"v":700},{"s":27,"d":244,"v":560},{"s":27,"d":252,"v":640},{"s":27,"d":260,"v":540},{"s":27,"d":270,"v":700},{"s":27,"d":280,"v":600},{"s":27,"d":290,"v":680},{"s":27,"d":300,"v":560},{"s":27,"d":310,"v":620},{"s":27,"d":318,"v":540},{"s":27,"d":326,"v":440},{"s":27,"d":336,"v":340},{"s":27,"d":348,"v":260},{"s":27,"d":358,"v":210},{"s":27,"d":365,"v":185},
{"s":28,"d":0,"v":175},{"s":28,"d":15,"v":132},{"s":28,"d":30,"v":98},{"s":28,"d":45,"v":74},{"s":28,"d":60,"v":55},{"s":28,"d":75,"v":42},{"s":28,"d":90,"v":45},{"s":28,"d":100,"v":120},{"s":28,"d":108,"v":500},{"s":28,"d":114,"v":900},{"s":28,"d":120,"v":1400},{"s":28,"d":126,"v":1200},{"s":28,"d":132,"v":1600},{"s":28,"d":138,"v":1300},{"s":28,"d":144,"v":1100},{"s":28,"d":150,"v":1150},{"s":28,"d":156,"v":900},{"s":28,"d":162,"v":1000},{"s":28,"d":170,"v":800},{"s":28,"d":178,"v":950},{"s":28,"d":186,"v":750},{"s":28,"d":194,"v":1000},{"s":28,"d":202,"v":780},{"s":28,"d":210,"v":650},{"s":28,"d":218,"v":820},{"s":28,"d":226,"v":640},{"s":28,"d":234,"v":760},{"s":28,"d":242,"v":620},{"s":28,"d":250,"v":720},{"s":28,"d":258,"v":640},{"s":28,"d":266,"v":800},{"s":28,"d":274,"v":700},{"s":28,"d":282,"v":620},{"s":28,"d":290,"v":760},{"s":28,"d":298,"v":660},{"s":28,"d":306,"v":600},{"s":28,"d":314,"v":680},{"s":28,"d":322,"v":560},{"s":28,"d":332,"v":420},{"s":28,"d":344,"v":310},{"s":28,"d":356,"v":240},{"s":28,"d":365,"v":200},
{"s":29,"d":0,"v":140},{"s":29,"d":15,"v":106},{"s":29,"d":30,"v":80},{"s":29,"d":45,"v":61},{"s":29,"d":60,"v":46},{"s":29,"d":75,"v":36},{"s":29,"d":90,"v":32},{"s":29,"d":98,"v":60},{"s":29,"d":106,"v":300},{"s":29,"d":112,"v":600},{"s":29,"d":118,"v":800},{"s":29,"d":124,"v":700},{"s":29,"d":130,"v":900},{"s":29,"d":137,"v":750},{"s":29,"d":144,"v":650},{"s":29,"d":152,"v":700},{"s":29,"d":160,"v":560},{"s":29,"d":168,"v":620},{"s":29,"d":176,"v":480},{"s":29,"d":184,"v":560},{"s":29,"d":192,"v":440},{"s":29,"d":200,"v":520},{"s":29,"d":208,"v":400},{"s":29,"d":216,"v":480},{"s":29,"d":224,"v":380},{"s":29,"d":234,"v":460},{"s":29,"d":244,"v":360},{"s":29,"d":254,"v":440},{"s":29,"d":264,"v":380},{"s":29,"d":274,"v":460},{"s":29,"d":284,"v":400},{"s":29,"d":294,"v":480},{"s":29,"d":304,"v":380},{"s":29,"d":312,"v":420},{"s":29,"d":320,"v":360},{"s":29,"d":330,"v":290},{"s":29,"d":342,"v":220},{"s":29,"d":354,"v":170},{"s":29,"d":365,"v":140},
{"s":30,"d":0,"v":270},{"s":30,"d":15,"v":195},{"s":30,"d":30,"v":142},{"s":30,"d":45,"v":104},{"s":30,"d":60,"v":77},{"s":30,"d":75,"v":58},{"s":30,"d":84,"v":90},{"s":30,"d":90,"v":300},{"s":30,"d":95,"v":700},{"s":30,"d":100,"v":1000},{"s":30,"d":106,"v":1300},{"s":30,"d":112,"v":1100},{"s":30,"d":118,"v":1500},{"s":30,"d":124,"v":1300},{"s":30,"d":130,"v":1700},{"s":30,"d":136,"v":1400},{"s":30,"d":142,"v":1250},{"s":30,"d":148,"v":1400},{"s":30,"d":154,"v":1150},{"s":30,"d":160,"v":1000},{"s":30,"d":166,"v":1130},{"s":30,"d":172,"v":900},{"s":30,"d":180,"v":1000},{"s":30,"d":188,"v":860},{"s":30,"d":196,"v":1050},{"s":30,"d":204,"v":880},{"s":30,"d":212,"v":960},{"s":30,"d":220,"v":800},{"s":30,"d":228,"v":900},{"s":30,"d":236,"v":760},{"s":30,"d":244,"v":860},{"s":30,"d":252,"v":720},{"s":30,"d":260,"v":820},{"s":30,"d":268,"v":700},{"s":30,"d":276,"v":800},{"s":30,"d":284,"v":700},{"s":30,"d":292,"v":760},{"s":30,"d":300,"v":680},{"s":30,"d":308,"v":740},{"s":30,"d":316,"v":660},{"s":30,"d":324,"v":560},{"s":30,"d":334,"v":430},{"s":30,"d":346,"v":330},{"s":30,"d":356,"v":270},{"s":30,"d":365,"v":240}
],
"mean": [
{"d":0,"v":168},{"d":5,"v":150},{"d":10,"v":137},{"d":20,"v":110},{"d":30,"v":90},{"d":40,"v":76},{"d":49.7,"v":68},{"d":55,"v":62},{"d":59.8,"v":58},{"d":62.6,"v":55},{"d":66,"v":72},{"d":69,"v":84},{"d":72,"v":80},{"d":75,"v":76},{"d":78,"v":70},{"d":80.5,"v":70},{"d":84,"v":118},{"d":87,"v":141},{"d":89.4,"v":221},{"d":91.3,"v":255},{"d":94,"v":267},{"d":96,"v":380},{"d":98.5,"v":528},{"d":101.3,"v":562},{"d":104.2,"v":544},{"d":107,"v":654},{"d":110,"v":767},{"d":112.8,"v":831},{"d":115,"v":815},{"d":117,"v":797},{"d":119,"v":820},{"d":121.4,"v":859},{"d":124.2,"v":984},{"d":127,"v":1007},{"d":130,"v":1037},{"d":132,"v":1025},{"d":134,"v":1018},{"d":136,"v":1050},{"d":137.5,"v":1080},{"d":139,"v":1060},{"d":141.4,"v":1018},{"d":143,"v":973},{"d":145.7,"v":916},{"d":148,"v":860},{"d":150,"v":825},{"d":152,"v":800},{"d":155.8,"v":768},{"d":158,"v":750},{"d":161.5,"v":722},{"d":163.5,"v":735},{"d":165.8,"v":745},{"d":168,"v":740},{"d":171.5,"v":752},{"d":174,"v":745},{"d":176.6,"v":748},{"d":180,"v":740},{"d":183,"v":733},{"d":186,"v":710},{"d":188,"v":690},{"d":190,"v":677},{"d":193,"v":722},{"d":196,"v":715},{"d":198.8,"v":704},{"d":202,"v":690},{"d":205,"v":665},{"d":207.4,"v":642},{"d":210,"v":650},{"d":213,"v":654},{"d":216,"v":640},{"d":218.8,"v":620},{"d":223,"v":620},{"d":226,"v":610},{"d":230,"v":620},{"d":234.6,"v":604},{"d":240,"v":607},{"d":244,"v":612},{"d":247.5,"v":608},{"d":250,"v":618},{"d":253,"v":631},{"d":257.6,"v":654},{"d":261.8,"v":677},{"d":266,"v":677},{"d":270,"v":668},{"d":273.3,"v":654},{"d":275.4,"v":627},{"d":279,"v":665},{"d":281,"v":642},{"d":284,"v":677},{"d":287.6,"v":642},{"d":290,"v":632},{"d":293.3,"v":620},{"d":296,"v":608},{"d":300.5,"v":585},{"d":304.8,"v":597},{"d":308,"v":600},{"d":310.5,"v":597},{"d":312.5,"v":590},{"d":314.8,"v":579},{"d":317.4,"v":627},{"d":319,"v":590},{"d":321.3,"v":528},{"d":325,"v":460},{"d":328,"v":410},{"d":331.3,"v":369},{"d":336.3,"v":335},{"d":340,"v":305},{"d":343.5,"v":278},{"d":347,"v":255},{"d":350.7,"v":232},{"d":354,"v":220},{"d":357.8,"v":203},{"d":361,"v":190},{"d":365,"v":176}
]
},
"layer": [
{
"data": {"name": "gray"},
"mark": {"type": "line", "color": "#c4c4c4", "strokeWidth": 1, "clip": true},
"encoding": {
"x": {"field": "d", "type": "quantitative", "scale": {"domain": [0, 365], "nice": false, "zero": false},
  "axis": {"orient": "bottom", "values": [0,50,100,150,200,250,300,350], "format": "d", "title": "JOUR JULIEN", "grid": false,
    "tickSize": -8, "tickColor": "black", "domainColor": "black", "labelPadding": 13, "labelFlush": false,
    "labelFont": "Liberation Sans", "labelFontWeight": "bold", "labelFontSize": 16, "labelColor": "black",
    "titleFont": "Liberation Sans", "titleFontWeight": "bold", "titleFontSize": 19, "titleColor": "black", "titlePadding": 3}},
"y": {"field": "v", "type": "quantitative", "scale": {"domain": [0, 3000], "nice": false},
  "axis": {"orient": "left", "values": [0,500,1000,1500,2000,2500,3000], "format": "d", "title": "DÉBIT MOYEN (m³/s)", "grid": false,
    "tickSize": -8, "tickColor": "black", "domainColor": "black", "labelPadding": 13, "labelFlush": false,
    "labelFont": "Liberation Sans", "labelFontWeight": "bold", "labelFontSize": 16, "labelColor": "black",
    "titleFont": "Liberation Sans", "titleFontWeight": "bold", "titleFontSize": 17.5, "titleColor": "black", "titlePadding": 7}},
"detail": {"field": "s", "type": "nominal"}
}
},
{
"data": {"name": "mean"},
"mark": {"type": "line", "color": "#ff1f1f", "strokeWidth": 2.5, "clip": true},
"encoding": {
"x": {"field": "d", "type": "quantitative",
  "axis": {"orient": "top", "values": [0,50,100,150,200,250,300,350], "title": null, "labels": false, "grid": false,
    "tickSize": -8, "tickColor": "black", "domainColor": "black"}},
"y": {"field": "v", "type": "quantitative",
  "axis": {"orient": "right", "values": [0,500,1000,1500,2000,2500,3000], "title": null, "labels": false, "grid": false,
    "tickSize": -8, "tickColor": "black", "domainColor": "black"}}
}
}
],
"resolve": {"axis": {"x": "independent", "y": "independent"}}
}
